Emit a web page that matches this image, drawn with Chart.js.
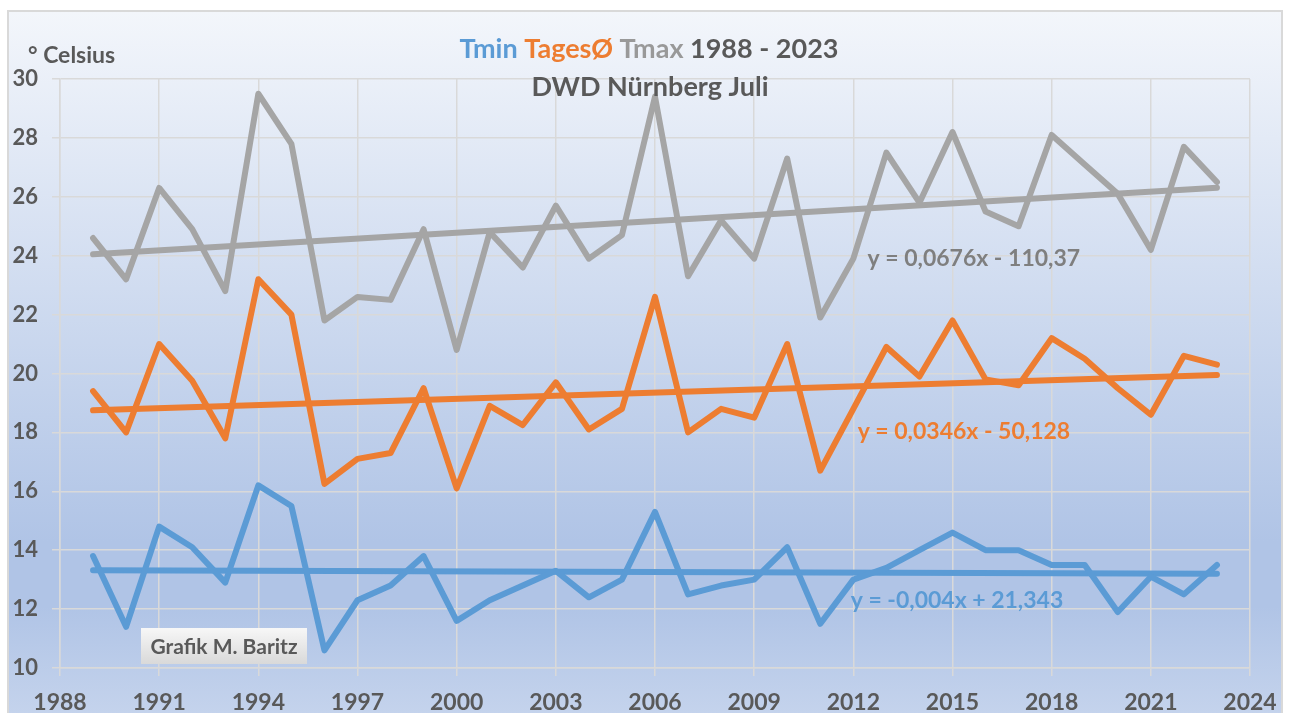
<!DOCTYPE html>
<html lang="de">
<head>
    <meta charset="UTF-8">
    <title>Tmin TagesØ Tmax 1988 - 2023 DWD Nürnberg Juli</title>
    <style>
        body {
            margin: 0;
            background: #fff;
            font-family: Lato, sans-serif;
        }
        #frame {
            position: absolute;
            left: 7px;
            top: 10px;
            width: 1276px;
            height: 720px;
            box-sizing: border-box;
            border: 2px solid #d9d9d9;
            background: linear-gradient(to bottom, #f3f6fb 0%, #b0c4e6 74%, #b0c4e6 83%, #c7d5ed 100%);
        }
        #chart {
            position: absolute;
            left: 0;
            top: 0;
        }
    </style>
</head>
<body>
    <div id="frame"></div>
    <canvas id="chart" width="1290" height="713"></canvas>

    <script src="https://cdn.jsdelivr.net/npm/chart.js"></script>
    <script>
        // Juli-Werte DWD Nürnberg, 1989 - 2023
        const years = [1989, 1990, 1991, 1992, 1993, 1994, 1995, 1996, 1997, 1998, 1999,
                       2000, 2001, 2002, 2003, 2004, 2005, 2006, 2007, 2008, 2009, 2010,
                       2011, 2012, 2013, 2014, 2015, 2016, 2017, 2018, 2019, 2020, 2021,
                       2022, 2023];
        const tmax = [24.6, 23.2, 26.3, 24.9, 22.8, 29.5, 27.8, 21.8, 22.6, 22.5, 24.9,
                      20.8, 24.8, 23.6, 25.7, 23.9, 24.7, 29.4, 23.3, 25.2, 23.9, 27.3,
                      21.9, 23.9, 27.5, 25.8, 28.2, 25.5, 25.0, 28.1, 27.1, 26.1, 24.2,
                      27.7, 26.5];
        const tages = [19.4, 18.0, 21.0, 19.75, 17.8, 23.2, 22.0, 16.25, 17.1, 17.3, 19.5,
                       16.1, 18.9, 18.25, 19.7, 18.1, 18.8, 22.6, 18.0, 18.8, 18.5, 21.0,
                       16.7, 18.8, 20.9, 19.9, 21.8, 19.8, 19.6, 21.2, 20.5, 19.5, 18.6,
                       20.6, 20.3];
        const tmin = [13.8, 11.4, 14.8, 14.1, 12.9, 16.2, 15.5, 10.6, 12.3, 12.8, 13.8,
                      11.6, 12.3, 12.8, 13.3, 12.4, 13.0, 15.3, 12.5, 12.8, 13.0, 14.1,
                      11.5, 13.0, 13.4, 14.0, 14.6, 14.0, 14.0, 13.5, 13.5, 11.9, 13.1,
                      12.5, 13.5];

        // Trendlinien: Anfang / Ende
        const trendYears = [1989, 2023];
        const tmaxTrend = [24.05, 26.31];
        const tagesTrend = [18.75, 19.95];
        const tminTrend = [13.32, 13.2];

        const equations = ['y = 0,0676x - 110,37', 'y = 0,0346x - 50,128', 'y = -0,004x + 21,343'];

        const GREY = '#a5a5a5', ORANGE = '#ed7d31', BLUE = '#5b9bd5', TEXT = '#595959';

        const pts = (xs, ys) => ys.map((v, i) => ({ x: xs[i], y: v }));

        function line(label, data, color) {
            return {
                label: label,
                data: data,
                borderColor: color,
                backgroundColor: color,
                borderWidth: 6,
                pointRadius: 0,
                tension: 0,
                fill: false,
                borderJoinStyle: 'round',
                borderCapStyle: 'round'
            };
        }

        const textPlugin = {
            id: 'texts',
            afterDraw(chart) {
                const ctx = chart.ctx;
                const sx = chart.scales.x, sy = chart.scales.y;
                ctx.save();
                ctx.textBaseline = 'middle';

                // Titel, Zeile 1 mehrfarbig
                const parts = [
                    { text: 'Tmin ', color: BLUE },
                    { text: 'TagesØ ', color: ORANGE },
                    { text: 'Tmax ', color: '#999999' },
                    { text: '1988 - 2023', color: TEXT }
                ];
                ctx.font = 'bold 27px Lato';
                const total = parts.reduce((w, p) => w + ctx.measureText(p.text).width, 0);
                let x = 649 - total / 2;
                parts.forEach(p => {
                    ctx.fillStyle = p.color;
                    ctx.textAlign = 'left';
                    ctx.fillText(p.text, x, 49);
                    x += ctx.measureText(p.text).width;
                });
                ctx.fillStyle = TEXT;
                ctx.textAlign = 'center';
                ctx.fillText('DWD Nürnberg Juli', 650, 87);

                // Einheit
                ctx.textAlign = 'left';
                ctx.font = 'bold 23px Lato';
                ctx.fillText('° Celsius', 28, 56);

                // Trend-Gleichungen
                ctx.font = 'bold 23px Lato';
                const eqPos = [[2012.43, 23.89, '#7f7f7f'], [2012.13, 18.04, ORANGE], [2011.92, 12.3, BLUE]];
                eqPos.forEach((p, i) => {
                    ctx.fillStyle = p[2];
                    ctx.fillText(equations[i], sx.getPixelForValue(p[0]), sy.getPixelForValue(p[1]));
                });

                // Grafik-Kasten
                const g = ctx.createLinearGradient(0, 628, 0, 664);
                g.addColorStop(0, '#f7f7f7');
                g.addColorStop(1, '#d9d9d9');
                ctx.fillStyle = g;
                ctx.fillRect(141, 628, 166, 36);
                ctx.fillStyle = TEXT;
                ctx.textAlign = 'center';
                ctx.font = 'bold 21px Lato';
                ctx.fillText('Grafik M. Baritz', 224, 647);
                ctx.restore();
            }
        };

        new Chart(document.getElementById('chart'), {
            type: 'line',
            data: {
                datasets: [
                    line('Tmax', pts(years, tmax), GREY),
                    line('Tmax Trend', pts(trendYears, tmaxTrend), GREY),
                    line('TagesØ', pts(years, tages), ORANGE),
                    line('TagesØ Trend', pts(trendYears, tagesTrend), ORANGE),
                    line('Tmin', pts(years, tmin), BLUE),
                    line('Tmin Trend', pts(trendYears, tminTrend), BLUE)
                ]
            },
            options: {
                responsive: false,
                animation: false,
                layout: { padding: { left: 0, top: 79, right: 40, bottom: 0 } },
                plugins: {
                    legend: { display: false },
                    tooltip: { enabled: false }
                },
                scales: {
                    x: {
                        type: 'linear',
                        min: 1988,
                        max: 2024,
                        afterFit: s => { s.height = 45; },
                        ticks: {
                            stepSize: 3,
                            color: TEXT,
                            font: { family: 'Lato', size: 23, weight: 'bold' },
                            padding: 13,
                            maxRotation: 0,
                            autoSkip: false,
                            callback: v => String(v)
                        },
                        grid: { color: '#d9d9d9', lineWidth: 1.5, tickLength: 8 },
                        border: { color: '#d9d9d9', width: 1.5 }
                    },
                    y: {
                        min: 10,
                        max: 30,
                        afterFit: s => { s.width = 60; },
                        ticks: {
                            stepSize: 2,
                            color: TEXT,
                            font: { family: 'Lato', size: 22, weight: 'bold' },
                            padding: 14
                        },
                        grid: { color: '#d9d9d9', lineWidth: 1.5, tickLength: 8 },
                        border: { color: '#d9d9d9', width: 1.5 }
                    }
                }
            },
            plugins: [textPlugin]
        });
    </script>
</body>
</html>
